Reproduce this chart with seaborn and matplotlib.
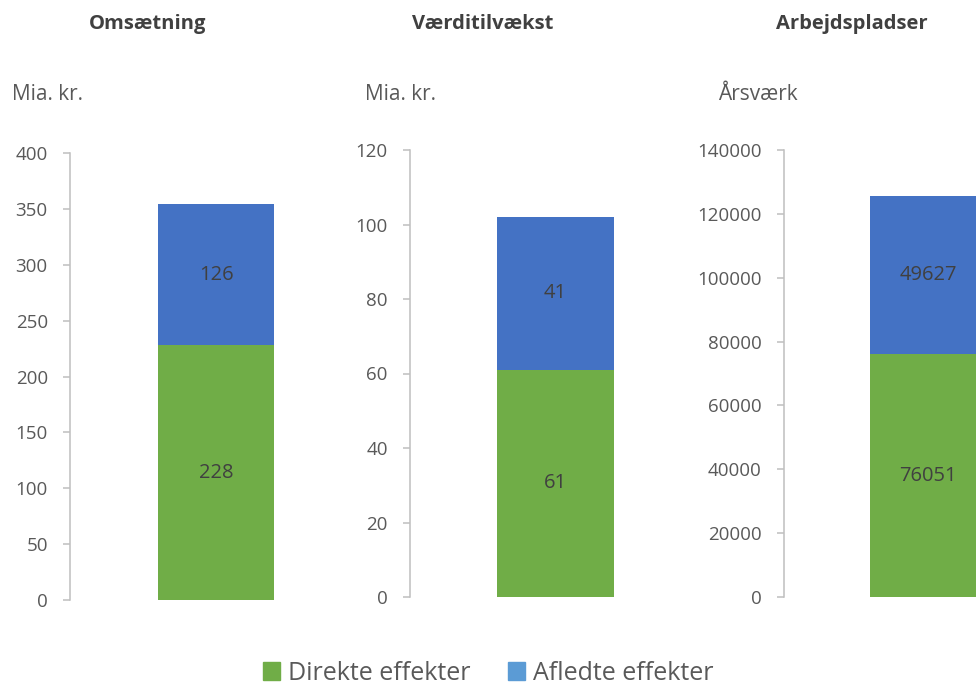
import matplotlib
matplotlib.use("Agg")
import matplotlib.pyplot as plt
from matplotlib.patches import Patch
import seaborn as sns
import pandas as pd

# Economic footprint: direct and derived effects
panels = ["Omsætning", "Værditilvækst", "Arbejdspladser"]
units = ["Mia. kr.", "Mia. kr.", "Årsværk"]
direct = [228, 61, 76051]
derived = [126, 41, 49627]
y_max = [400, 120, 140000]
y_step = [50, 20, 20000]

GREEN = "#70AD47"
BLUE = "#4472C4"
LEGEND_BLUE = "#5B9BD5"
TEXT = "#595959"
AXIS = "#BFBFBF"

sns.set_theme(style="white")
plt.rcParams["font.family"] = ["Open Sans", "DejaVu Sans"]

W, H = 976, 684
fig = plt.figure(figsize=(W / 100, H / 100), dpi=100)

# pixel layout for each panel: axis x, axes width, top y, bottom y
layout = [(70, 292, 153, 600), (410, 291, 150, 597), (784, 288, 150, 597)]
title_x = [148, 483, 852]
unit_x = [12, 365, 718]

for i, name in enumerate(panels):
    x0, w, top, bot = layout[i]
    ax = fig.add_axes([x0 / W, (H - bot) / H, w / W, (bot - top) / H])
    df = pd.DataFrame({"g": [name], "direct": [direct[i]],
                       "total": [direct[i] + derived[i]]})
    sns.barplot(data=df, x="g", y="total", color=BLUE, width=0.4,
                saturation=1, linewidth=0, ax=ax)
    sns.barplot(data=df, x="g", y="direct", color=GREEN, width=0.4,
                saturation=1, linewidth=0, ax=ax)
    ax.set_xlim(-0.5, 0.5)
    ax.set_ylim(0, y_max[i])
    ax.set_yticks(range(0, y_max[i] + 1, y_step[i]))
    ax.set_xticks([])
    ax.set_xlabel("")
    ax.set_ylabel("")
    for s in ["top", "right", "bottom"]:
        ax.spines[s].set_visible(False)
    ax.spines["left"].set_color(AXIS)
    ax.spines["left"].set_linewidth(1.1)
    ax.tick_params(axis="y", left=True, length=5, width=1.1, color=AXIS,
                   pad=11, labelsize=13.5, labelcolor=TEXT)
    ax.patch.set_alpha(0)

    ax.text(0, direct[i] / 2, f"{direct[i]}", ha="center", va="center",
            fontsize=14.5, color="#404040")
    ax.text(0, direct[i] + derived[i] / 2, f"{derived[i]}", ha="center",
            va="center", fontsize=14.5, color="#404040")

    fig.text(title_x[i] / W, 1 - 24 / H, name, ha="center", va="center",
             fontsize=14.5, fontweight="bold", color="#404040")
    fig.text(unit_x[i] / W, 1 - 95 / H, units[i], ha="left", va="center",
             fontsize=15, color=TEXT)

handles = [Patch(color=GREEN, label="Direkte effekter"),
           Patch(color=LEGEND_BLUE, label="Afledte effekter")]
fig.legend(handles=handles, loc="center", bbox_to_anchor=(0.5, 1 - 673 / H),
           ncol=2, frameon=False, fontsize=18, labelcolor=TEXT,
           handlelength=0.7, handleheight=0.7, handletextpad=0.3,
           columnspacing=1.5)

fig.savefig("out.png", dpi=100, facecolor="white")
